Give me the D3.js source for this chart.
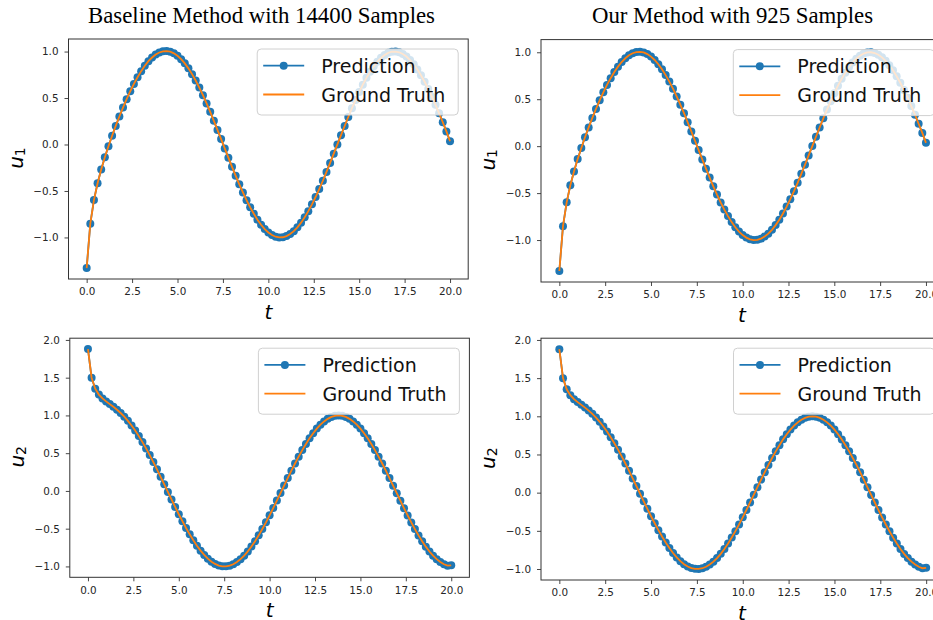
<!DOCTYPE html>
<html>
<head>
<meta charset="utf-8">
<script src="https://cdn.jsdelivr.net/npm/d3@7"></script>
<style>
  html, body { margin: 0; padding: 0; background: #ffffff; }
  svg { display: block; }
</style>
</head>
<body>
<svg id="chart" width="933" height="620"></svg>
<script>
// ---------------- data ----------------
const titles = ["Baseline Method with 14400 Samples", "Our Method with 925 Samples"];
const legendLabels = ["Prediction", "Ground Truth"];
const xTicks = [0, 2.5, 5, 7.5, 10, 12.5, 15, 17.5, 20];
const yTicksU1 = [-1.0, -0.5, 0.0, 0.5, 1.0];
const yTicksU2 = [-1.0, -0.5, 0.0, 0.5, 1.0, 1.5, 2.0];

const tValues = [
  0.0, 0.2, 0.4, 0.6, 0.8, 1.0, 1.2, 1.4, 1.6, 1.8,
  2.0, 2.2, 2.4, 2.6, 2.8, 3.0, 3.2, 3.4, 3.6, 3.8,
  4.0, 4.2, 4.4, 4.6, 4.8, 5.0, 5.2, 5.4, 5.6, 5.8,
  6.0, 6.2, 6.4, 6.6, 6.8, 7.0, 7.2, 7.4, 7.6, 7.8,
  8.0, 8.2, 8.4, 8.6, 8.8, 9.0, 9.2, 9.4, 9.6, 9.8,
  10.0, 10.2, 10.4, 10.6, 10.8, 11.0, 11.2, 11.4, 11.6, 11.8,
  12.0, 12.2, 12.4, 12.6, 12.8, 13.0, 13.2, 13.4, 13.6, 13.8,
  14.0, 14.2, 14.4, 14.6, 14.8, 15.0, 15.2, 15.4, 15.6, 15.8,
  16.0, 16.2, 16.4, 16.6, 16.8, 17.0, 17.2, 17.4, 17.6, 17.8,
  18.0, 18.2, 18.4, 18.6, 18.8, 19.0, 19.2, 19.4, 19.6, 19.8,
  20.0
];

const u1Truth = [
  -1.330, -0.852, -0.598, -0.417, -0.269, -0.138, -0.019, 0.094, 0.200, 0.301,
  0.397, 0.488, 0.573, 0.652, 0.724, 0.789, 0.847, 0.896, 0.936, 0.968,
  0.990, 1.002, 1.005, 0.998, 0.981, 0.954, 0.918, 0.873, 0.819, 0.757,
  0.688, 0.612, 0.530, 0.442, 0.351, 0.255, 0.157, 0.058, -0.042, -0.142,
  -0.240, -0.335, -0.428, -0.516, -0.599, -0.676, -0.745, -0.809, -0.864, -0.910,
  -0.947, -0.974, -0.992, -1.000, -0.998, -0.985, -0.963, -0.932, -0.891, -0.841,
  -0.783, -0.717, -0.644, -0.565, -0.480, -0.390, -0.295, -0.198, -0.099, 0.001,
  0.100, 0.199, 0.296, 0.390, 0.479, 0.564, 0.644, 0.717, 0.783, 0.841,
  0.891, 0.932, 0.963, 0.986, 0.998, 1.000, 0.992, 0.974, 0.946, 0.909,
  0.863, 0.808, 0.745, 0.675, 0.598, 0.515, 0.427, 0.335, 0.239, 0.141,
  0.035
];

const u2Truth = [
  1.879, 1.500, 1.354, 1.276, 1.225, 1.186, 1.150, 1.114, 1.075, 1.032,
  0.983, 0.928, 0.867, 0.800, 0.726, 0.647, 0.563, 0.475, 0.382, 0.286,
  0.187, 0.087, -0.013, -0.113, -0.212, -0.309, -0.401, -0.491, -0.575, -0.654,
  -0.726, -0.791, -0.848, -0.897, -0.937, -0.967, -0.988, -0.998, -0.999, -0.990,
  -0.971, -0.942, -0.904, -0.857, -0.801, -0.737, -0.667, -0.588, -0.504, -0.416,
  -0.323, -0.227, -0.128, -0.029, 0.071, 0.171, 0.268, 0.363, 0.454, 0.541,
  0.622, 0.698, 0.765, 0.826, 0.878, 0.921, 0.955, 0.980, 0.995, 1.000,
  0.995, 0.980, 0.955, 0.921, 0.878, 0.826, 0.765, 0.697, 0.622, 0.541,
  0.454, 0.363, 0.268, 0.170, 0.070, -0.030, -0.129, -0.228, -0.324, -0.417,
  -0.505, -0.589, -0.667, -0.738, -0.802, -0.857, -0.904, -0.942, -0.971, -0.990,
  -0.985
];

// predictions of both methods match the ground truth to within the picture's resolution
const u1PredBaseline = u1Truth;
const u1PredOurs = u1Truth;
const u2PredBaseline = u2Truth;
const u2PredOurs = u2Truth;

// ---------------- layout ----------------
const BLUE = "#1f77b4", ORANGE = "#ff7f0e";
const panels = [
  { left: 68.5, right: 468.2, top: 39.0, bottom: 279.0, yDomain: [-1.447, 1.135], ticks: yTicksU1, pred: u1PredBaseline, truth: u1Truth, sub: "1" },
  { left: 541.0, right: 944.3, top: 39.6, bottom: 282.0, yDomain: [-1.447, 1.135], ticks: yTicksU1, pred: u1PredOurs, truth: u1Truth, sub: "1" },
  { left: 69.8, right: 469.4, top: 338.2, bottom: 577.3, yDomain: [-1.144, 2.023], ticks: yTicksU2, pred: u2PredBaseline, truth: u2Truth, sub: "2" },
  { left: 541.0, right: 944.5, top: 338.2, bottom: 580.0, yDomain: [-1.144, 2.023], ticks: yTicksU2, pred: u2PredOurs, truth: u2Truth, sub: "2" }
];

const svg = d3.select("#chart");
const fmt = v => (v < 0 ? "\u2212" : "") + Math.abs(v).toFixed(1);

// titles
svg.append("text").attr("x", 261.5).attr("y", 23.3).attr("text-anchor", "middle")
  .attr("font-family", "'Liberation Serif', 'Times New Roman', serif").attr("font-size", 22.8)
  .attr("fill", "#000").text(titles[0]);
svg.append("text").attr("x", 732.5).attr("y", 23.3).attr("text-anchor", "middle")
  .attr("font-family", "'Liberation Serif', 'Times New Roman', serif").attr("font-size", 22.8)
  .attr("fill", "#000").text(titles[1]);

panels.forEach(p => {
  const x = d3.scaleLinear().domain([-1, 21]).range([p.left, p.right]);
  const y = d3.scaleLinear().domain(p.yDomain).range([p.bottom, p.top]);
  const g = svg.append("g");

  // x axis
  const xAxis = g.append("g").attr("transform", `translate(0,${p.bottom})`)
    .call(d3.axisBottom(x).tickValues(xTicks).tickFormat(fmt).tickSizeOuter(0).tickSize(4).tickPadding(5));
  // y axis
  const yAxis = g.append("g").attr("transform", `translate(${p.left},0)`)
    .call(d3.axisLeft(y).tickValues(p.ticks).tickFormat(fmt).tickSizeOuter(0).tickSize(4).tickPadding(6));
  [xAxis, yAxis].forEach(a => {
    a.select(".domain").remove();
    a.selectAll(".tick line").attr("stroke", "#333").attr("stroke-width", 0.9);
    a.selectAll(".tick text").attr("font-family", "'DejaVu Sans', sans-serif")
      .attr("font-size", 10.4).attr("fill", "#262626");
  });

  // data
  const line = d3.line().x((d, i) => x(tValues[i])).y(d => y(d));
  g.append("path").datum(p.pred).attr("d", line).attr("fill", "none")
    .attr("stroke", BLUE).attr("stroke-width", 1.8);
  g.selectAll("circle.pt").data(p.pred).join("circle").attr("class", "pt")
    .attr("cx", (d, i) => x(tValues[i])).attr("cy", d => y(d)).attr("r", 4).attr("fill", BLUE);
  g.append("path").datum(p.truth).attr("d", line).attr("fill", "none")
    .attr("stroke", ORANGE).attr("stroke-width", 1.8);

  // frame
  g.append("rect").attr("x", p.left).attr("y", p.top)
    .attr("width", p.right - p.left).attr("height", p.bottom - p.top)
    .attr("fill", "none").attr("stroke", "#333").attr("stroke-width", 1);

  // axis labels
  const xc = (p.left + p.right) / 2, yc = (p.top + p.bottom) / 2;
  g.append("text").attr("x", Math.min(xc, 742)).attr("y", p.bottom + 40).attr("text-anchor", "middle")
    .attr("font-family", "'DejaVu Sans', sans-serif").attr("font-style", "italic")
    .attr("font-size", 20).attr("fill", "#000").text("t");
  const yl = g.append("text").attr("transform", `translate(${p.left - 46},${yc - 1}) rotate(-90)`)
    .attr("text-anchor", "middle").attr("font-family", "'DejaVu Sans', sans-serif")
    .attr("font-size", 20).attr("fill", "#000");
  yl.append("tspan").attr("font-style", "italic").text("u");
  yl.append("tspan").attr("font-size", 14).attr("dy", 2).text(p.sub);

  // legend
  const lx = p.right - 211, ly = p.top + 10;
  const lg = g.append("g");
  lg.append("rect").attr("x", lx).attr("y", ly).attr("width", 201).attr("height", 66)
    .attr("rx", 4).attr("fill", "#fff").attr("fill-opacity", 0.8)
    .attr("stroke", "#d0d0d0").attr("stroke-width", 1);
  const rows = [ly + 16.7, ly + 45.5];
  lg.append("line").attr("x1", lx + 6).attr("x2", lx + 47).attr("y1", rows[0]).attr("y2", rows[0])
    .attr("stroke", BLUE).attr("stroke-width", 1.8);
  lg.append("circle").attr("cx", lx + 26.5).attr("cy", rows[0]).attr("r", 4).attr("fill", BLUE);
  lg.append("line").attr("x1", lx + 6).attr("x2", lx + 47).attr("y1", rows[1]).attr("y2", rows[1])
    .attr("stroke", ORANGE).attr("stroke-width", 1.8);
  legendLabels.forEach((lab, i) => {
    lg.append("text").attr("x", lx + 64).attr("y", rows[i] + 7)
      .attr("font-family", "'DejaVu Sans', sans-serif").attr("font-size", 19)
      .attr("fill", "#111").text(lab);
  });
});
</script>
</body>
</html>
